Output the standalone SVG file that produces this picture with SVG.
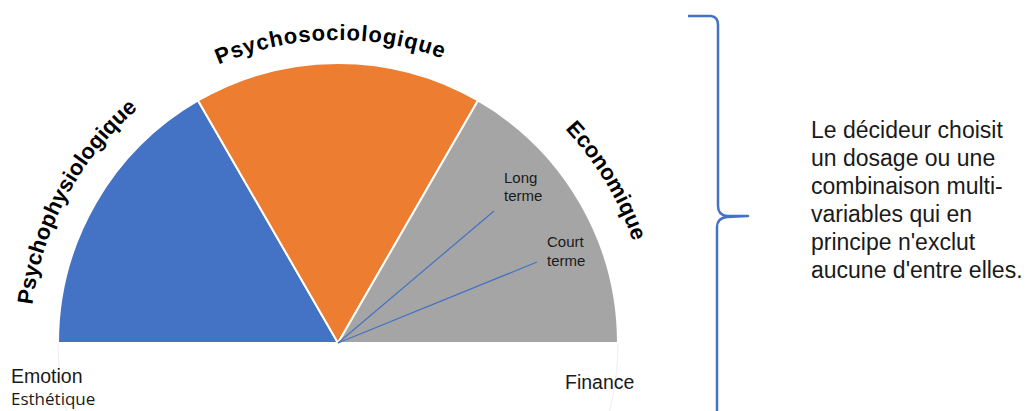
<svg xmlns="http://www.w3.org/2000/svg" xmlns:xlink="http://www.w3.org/1999/xlink" width="1027" height="411" viewBox="0 0 1027 411">
<style>
.wedge{stroke:#ffffff;stroke-width:2;stroke-linejoin:round}
.arcl{font-family:"Liberation Sans",Arial,sans-serif;font-weight:bold;font-size:22px;fill:#000000}
.lbl{font-family:"Liberation Sans",Arial,sans-serif;fill:#1a1a1a}
.small{font-family:"Liberation Sans",Arial,sans-serif;font-size:15px;fill:#1a1a1a}
.lead{stroke:#4472C4;stroke-width:1.2;fill:none}
</style>
<defs>
<path id="arcA" d="M 30 343 A 308 308 0 0 1 646 343"/>
<path id="arcB" d="M 35 343 A 303 303 0 0 1 641 343"/>
<path id="arcC" d="M 26 343 A 312 312 0 0 1 650 343"/>
</defs>
<rect width="1027" height="411" fill="#ffffff"/>
<path d="M 58 343 A 280 280 0 0 0 618 343" fill="none" stroke="#eeeeee" stroke-width="1"/>
<g id="psychophysiologique">
<path class="wedge" fill="#4472C4" d="M338 343 L58 343 A280 280 0 0 1 198 100.5 Z"/>
<text class="arcl"><textPath xlink:href="#arcA" href="#arcA" startOffset="152" text-anchor="middle">Psychophysiologique</textPath></text>
</g>
<g id="psychosociologique">
<path class="wedge" fill="#ED7D31" d="M338 343 L198 100.5 A280 280 0 0 1 478 100.5 Z"/>
<text class="arcl" letter-spacing="0.9"><textPath xlink:href="#arcB" href="#arcB" startOffset="468" text-anchor="middle">Psychosociologique</textPath></text>
</g>
<g id="economique">
<path class="wedge" fill="#A5A5A5" d="M338 343 L478 100.5 A280 280 0 0 1 618 343 Z"/>
<text class="arcl"><textPath xlink:href="#arcC" href="#arcC" startOffset="810" text-anchor="middle">Economique</textPath></text>
</g>
<g id="connectors">
<line class="lead" x1="338" y1="343" x2="494" y2="211"/>
<line class="lead" x1="338" y1="343" x2="537" y2="262"/>
<path d="M 688 16 L 711 16 Q 718 17 718 25 L 718 206 Q 718 215 727 216 L 748 216 L 727 217 Q 717 218 717 227 L 717 411" fill="none" stroke="#4472C4" stroke-width="2.5" stroke-linejoin="round"/>
</g>
<g id="long-terme">
<text class="small" x="504" y="183">Long</text>
<text class="small" x="504" y="201">terme</text>
</g>
<g id="court-terme">
<text class="small" x="547" y="247">Court</text>
<text class="small" x="547" y="266">terme</text>
</g>
<g id="emotion">
<text class="lbl" x="11" y="383" font-size="19.5">Emotion</text>
<text x="11" y="405" font-family="'Open Sans','Noto Sans',sans-serif" font-size="17" fill="#1a1a1a">Esthétique</text>
</g>
<g id="finance">
<text class="lbl" x="565" y="389" font-size="19.5">Finance</text>
</g>
<g id="decideur">
<text class="lbl" font-size="23">
<tspan x="811" y="138">Le décideur choisit</tspan>
<tspan x="811" y="166">un dosage ou une</tspan>
<tspan x="811" y="194">combinaison multi-</tspan>
<tspan x="811" y="222">variables qui en</tspan>
<tspan x="811" y="250">principe n'exclut</tspan>
<tspan x="811" y="278">aucune d'entre elles.</tspan>
</text>
</g>
</svg>
